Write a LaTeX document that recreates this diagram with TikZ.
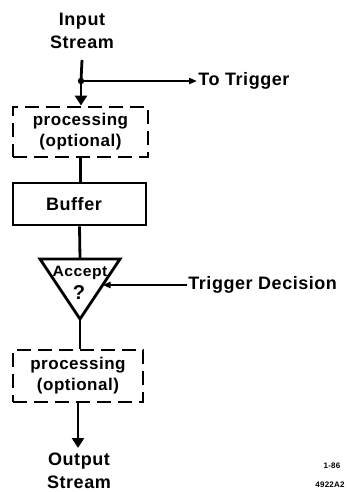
\documentclass[tikz,border=0pt]{standalone}
\usepackage{fontspec}
\setmainfont{Liberation Sans}[LetterSpace=3]
\usetikzlibrary{arrows.meta}
\begin{document}
\begin{tikzpicture}[x=1pt,y=-1pt,
  line width=2.8pt,
  lbl/.style={font=\fontsize{18}{23}\selectfont\bfseries, align=center, inner sep=0pt},
  dbox/.style={draw, dash pattern=on 14pt off 7pt, line width=2.9pt, inner sep=0pt, align=center, font=\fontsize{17}{21}\selectfont\bfseries},
  sbox/.style={draw, line width=2.8pt, inner sep=0pt},
  bigarrow/.style={-{Triangle[length=10pt,width=12pt]}},
  smallarrow/.style={-{Triangle[length=8pt,width=6pt]}},
  tiny/.style={font=\fontsize{8}{9}\selectfont\bfseries, inner sep=0pt}
]
\useasboundingbox (0,0) rectangle (347,492);

% nodes
\node[lbl] (in) at (82,31) {Input\\Stream};
\coordinate (j) at (81,81);
\node[dbox, minimum width=135pt, minimum height=50pt] (p1) at (80.5,132) {processing\\(optional)};
\node[sbox, minimum width=133pt, minimum height=42pt] (buf) at (79.5,204) {};
\node[font=\fontsize{18}{22}\selectfont\bfseries, inner sep=0pt] (buftxt) at (74,204) {Buffer};

% triangle
\coordinate (tl) at (40,259);
\coordinate (tr) at (120,259);
\coordinate (tap) at (80,319);
\coordinate (ttop) at (80,259);
\coordinate (tre) at (102.5,285);
\draw[line join=miter] (tl) -- (tr) -- (tap) -- cycle;
\node[font=\fontsize{15}{18}\selectfont\bfseries, inner sep=0pt, xscale=1.05] (acc) at (80,272.5) {Accept};
\node[font=\fontsize{20}{22}\selectfont\bfseries, inner sep=0pt] (q) at (79,293) {?};

\node[dbox, minimum width=130pt, minimum height=52pt] (p2) at (78,376) {processing\\(optional)};
\node[lbl] (out) at (79,471) {Output\\Stream};

\node[lbl, anchor=west] (tt) at (197,81) {To Trigger};
\node[lbl, anchor=west] (td) at (187,285) {Trigger Decision};

\node[tiny] (n1) at (332,466) {1-86};
\node[tiny] (n2) at (330,485) {4922A2};

% connectors
\draw (in.south |- 0,60) -- (j);
\draw[bigarrow] (j) -- (j |- p1.north);
\fill (j) circle (3.2pt);
\draw[smallarrow] (j) -- (tt.west);
\draw (p1.south) -- (p1.south |- buf.north);
\draw (buf.south) -- (ttop);
\draw[smallarrow] (td.west) -- (tre);
\draw (tap) -- (tap |- p2.north);
\draw[bigarrow] (p2.south) -- (78,448);
\end{tikzpicture}
\end{document}
